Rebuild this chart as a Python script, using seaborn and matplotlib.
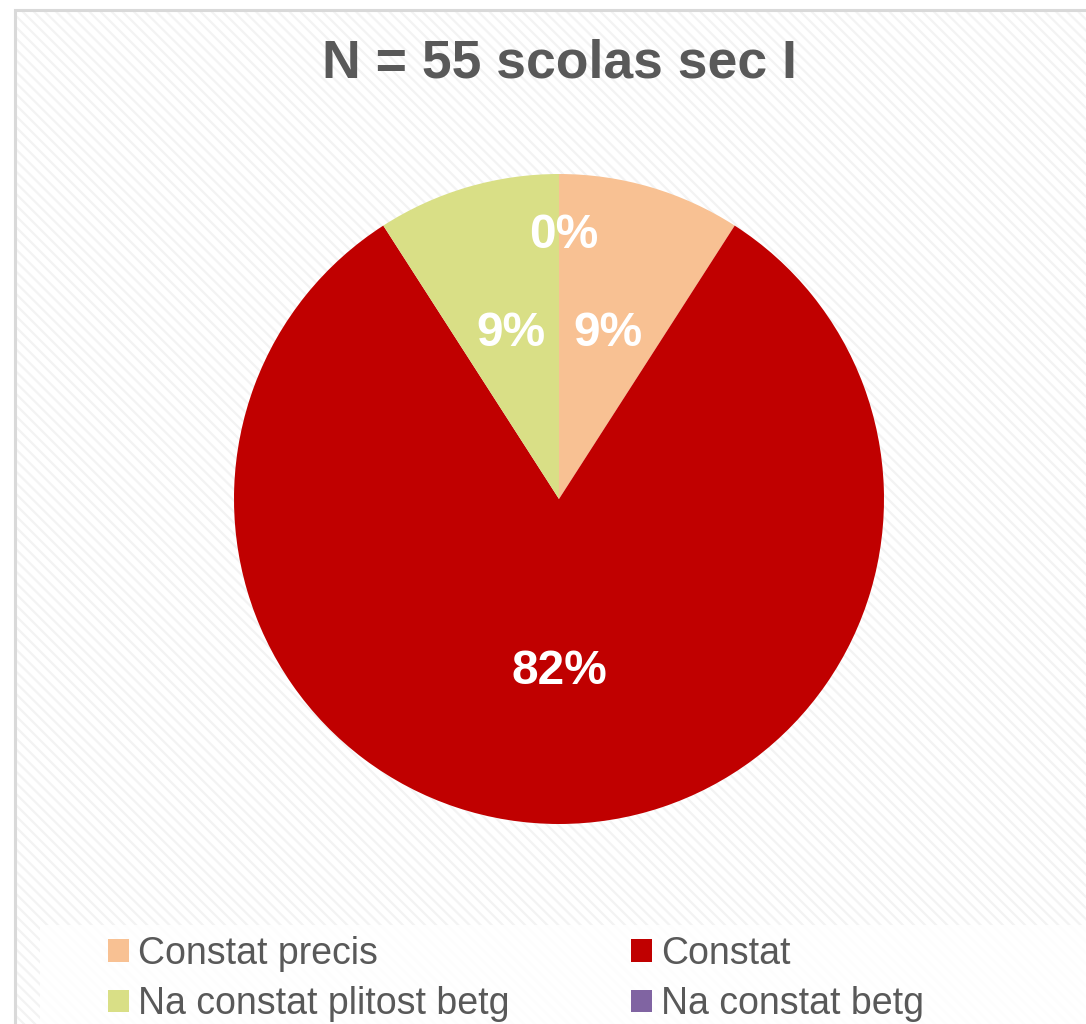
import numpy as np
import pandas as pd
import matplotlib
matplotlib.use("Agg")
import matplotlib.pyplot as plt
from matplotlib.patches import Rectangle, Patch
import seaborn as sns

# Data
categories = ["Constat precis", "Constat", "Na constat plitost betg", "Na constat betg"]
counts = [5, 45, 5, 0]
colors = ["#F8C193", "#C00000", "#D9DF86", "#8064A2"]
title = "N = 55 scolas sec I"

df = pd.DataFrame({"category": categories, "count": counts, "color": colors})

sns.set_theme(style="white")
plt.rcParams["font.family"] = ["Liberation Sans", "DejaVu Sans"]
plt.rcParams["hatch.linewidth"] = 1.6
plt.rcParams["hatch.color"] = "#F3F3F3"

W, H = 1086, 1024
fig = plt.figure(figsize=(W / 100, H / 100), dpi=100)
fig.patch.set_facecolor("white")

# hatched chart area with light border
bg = Rectangle((15 / W, -0.05), 1.1, 1 - 10 / H + 0.05, transform=fig.transFigure,
               facecolor="white", edgecolor="#F3F3F3", hatch="\\\\\\", lw=0, zorder=0)
fig.patches.append(bg)
border = Rectangle((15 / W, -0.05), 1.1, 1 - 10 / H + 0.05, transform=fig.transFigure,
                   facecolor="none", edgecolor="#D9D9D9", lw=2.2, zorder=1)
fig.patches.append(border)
# white legend band
band = Rectangle((40 / W, -0.05), 1.1, 0.05 + (H - 925) / H, transform=fig.transFigure,
                 facecolor="white", edgecolor="none", alpha=0.85, zorder=1)
fig.patches.append(band)

cx, cy, r = 559, 499, 325
ax = fig.add_axes([(cx - r) / W, (H - cy - r) / H, 2 * r / W, 2 * r / H])
ax.set_facecolor("none")
ax.set_zorder(3)

wedges, texts, autotexts = ax.pie(
    df["count"], colors=df["color"], startangle=90, counterclock=False,
    autopct=lambda p: f"{p:.0f}%", pctdistance=0.53,
    wedgeprops=dict(linewidth=0),
    textprops=dict(color="white", fontsize=34.5, fontweight="bold"))
ax.set_xlim(-1, 1)
ax.set_ylim(-1, 1)

# zero slice label sits further out near the top
for t, c in zip(autotexts, counts):
    if c == 0:
        x, y = t.get_position()
        t.set_position((x + 0.015, y * 0.81 / 0.53))

fig.text(559 / W, 1 - 63 / H, title, ha="center", va="center",
         fontsize=38.5, fontweight="bold", color="#595959", zorder=4)

handles = [Patch(facecolor=c, edgecolor="none") for c in colors]
order = [0, 2, 1, 3]
leg = fig.legend([handles[i] for i in order], [categories[i] for i in order],
                 ncol=2, loc="upper left", bbox_to_anchor=(108 / W, 1 - 936 / H),
                 frameon=False, fontsize=27, handlelength=0.55, handleheight=0.55,
                 handletextpad=0.25, columnspacing=3.24, labelspacing=0.38,
                 borderpad=0, borderaxespad=0)
leg.set_zorder(4)
for t in leg.get_texts():
    t.set_color("#595959")

fig.savefig("out.png", dpi=100, facecolor="white")
